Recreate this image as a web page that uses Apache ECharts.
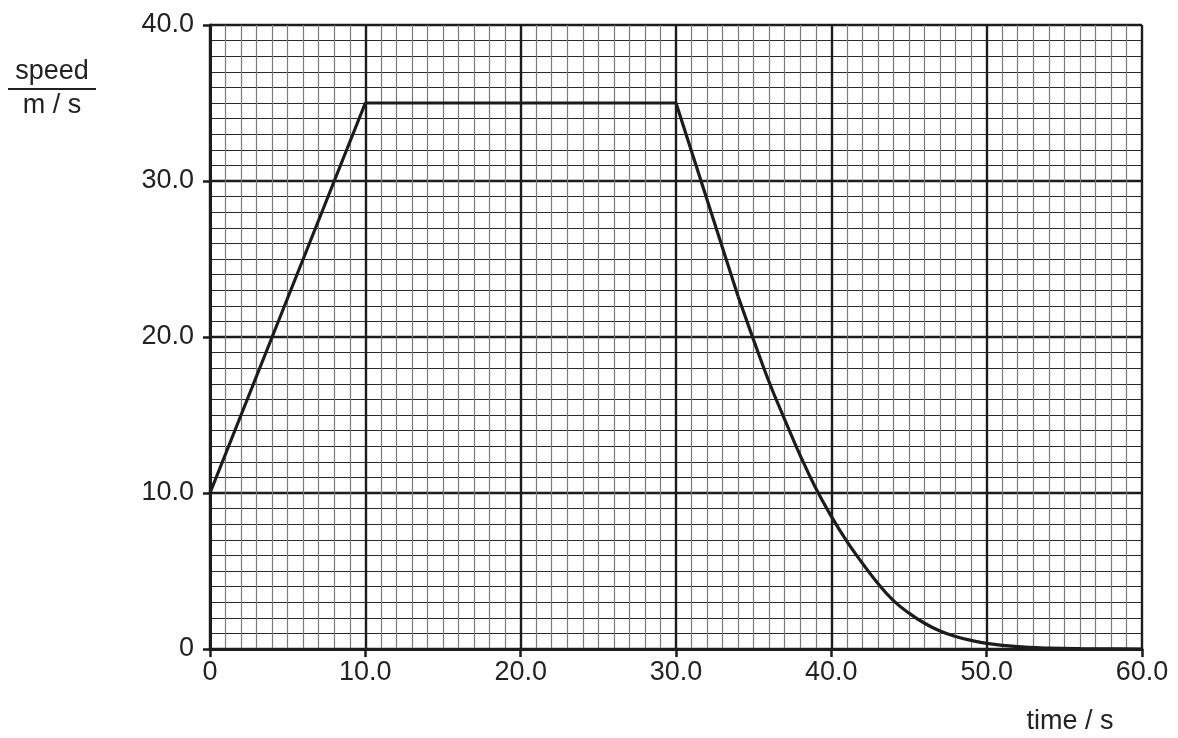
<!DOCTYPE html>
<html><head><meta charset="utf-8">
<script src="https://cdn.jsdelivr.net/npm/echarts@6/dist/echarts.min.js"></script>
<style>html,body{margin:0;padding:0;background:#fff}#c{width:1178px;height:738px}</style>
</head><body><div id="c"></div>
<script>
// Data
const xTicks = [0, 10, 20, 30, 40, 50, 60];
const yTicks = [0, 10, 20, 30, 40];
const linearTime = [0, 10, 30, 34];
const linearSpeed = [10, 35, 35, 22.6];
const decelTime = [34, 35, 36, 37, 38, 39, 40, 41, 42, 43, 44, 45, 46, 47, 48, 49, 50, 52, 54, 56, 58, 60];
const decelSpeed = [22.6, 19.8, 17.1, 14.7, 12.4, 10.3, 8.5, 6.9, 5.5, 4.2, 3.1, 2.3, 1.65, 1.15, 0.8, 0.55, 0.36, 0.15, 0.06, 0.02, 0.01, 0];

const chart = echarts.init(document.getElementById('c'), null, {renderer: 'canvas'});
const ink = '#1c1c1c';
const font = 'Liberation Sans, Arial, sans-serif';
const fmt = v => v === 0 ? '0' : v.toFixed(1);
chart.setOption({
  animation: false,
  grid: {left: 210, right: 36, top: 25, bottom: 89, containLabel: false},
  xAxis: {
    type: 'value', min: 0, max: 60, interval: 10,
    axisLine: {show: true, onZero: false, lineStyle: {color: ink, width: 3}},
    axisTick: {show: true, length: 8, lineStyle: {color: ink, width: 2.5}},
    axisLabel: {margin: 10, fontSize: 27, color: '#222', fontFamily: font, formatter: fmt},
    splitLine: {show: true, lineStyle: {color: ink, width: 2.4}},
    minorTick: {show: false, splitNumber: 10},
    minorSplitLine: {show: true, lineStyle: {color: '#7a7a7a', width: 1.2}}
  },
  yAxis: {
    type: 'value', min: 0, max: 40, interval: 10,
    axisLine: {show: true, onZero: false, lineStyle: {color: ink, width: 3}},
    axisTick: {show: true, length: 7, lineStyle: {color: ink, width: 2.5}},
    axisLabel: {margin: 16, fontSize: 27, color: '#222', fontFamily: font, formatter: fmt},
    splitLine: {show: true, lineStyle: {color: ink, width: 2.4}},
    minorTick: {show: false, splitNumber: 10},
    minorSplitLine: {show: true, lineStyle: {color: '#2a2a2a', width: 1}}
  },
  series: [
    {type: 'line', data: linearTime.map((t, i) => [t, linearSpeed[i]]), showSymbol: false,
     lineStyle: {color: ink, width: 3.2}, z: 5},
    {type: 'line', data: decelTime.map((t, i) => [t, decelSpeed[i]]), showSymbol: false,
     smooth: 0.45, lineStyle: {color: ink, width: 3.2}, z: 5}
  ],
  graphic: [
    {type: 'text', style: {text: 'speed', font: '27px ' + font, fill: '#222', x: 52, y: 72, align: 'center', verticalAlign: 'middle'}},
    {type: 'line', shape: {x1: 8, y1: 89, x2: 96, y2: 89}, style: {stroke: '#222', lineWidth: 2}},
    {type: 'text', style: {text: 'm / s', font: '27px ' + font, fill: '#222', x: 52, y: 106, align: 'center', verticalAlign: 'middle'}},
    {type: 'text', style: {text: 'time / s', font: '27px ' + font, fill: '#222', x: 1070, y: 722, align: 'center', verticalAlign: 'middle'}}
  ]
});
</script></body></html>
